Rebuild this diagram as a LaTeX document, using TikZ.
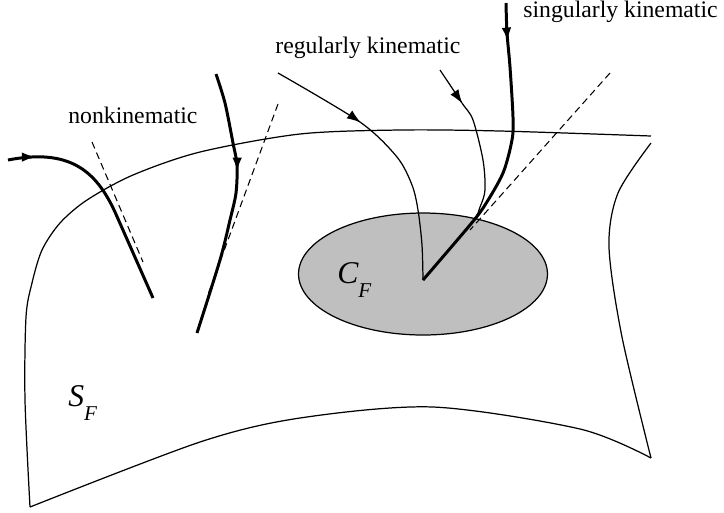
\documentclass[tikz,border=0pt]{standalone}
\usepackage{fontspec}
\setmainfont{Liberation Serif}
\usetikzlibrary{arrows.meta,decorations.markings}

\newcommand{\withsub}[2]{{\fontsize{18}{18}\selectfont\itshape #1}\raisebox{-8pt}{\fontsize{12}{12}\selectfont\itshape #2}}

\begin{document}
\begin{tikzpicture}[x=0.02cm, y=-0.02cm,
    surf/.style={line width=0.7pt},
    thinpath/.style={line width=0.7pt},
    thickpath/.style={line width=1.7pt},
    tangent/.style={line width=0.6pt, dash pattern=on 4pt off 2.5pt},
    tipat/.style={postaction={decorate}, decoration={markings,
        mark=at position #1 with {\arrow{Latex[length=8pt,width=5.5pt]}}}},
    lbl/.style={font=\fontsize{13.5}{16}\selectfont, inner sep=0pt, anchor=base west}]
    \useasboundingbox (0,0) rectangle (724,512);

    % the surface S_F
    \draw[surf] plot[smooth] coordinates {(30,507) (25,400) (26,317) (32,283) (42,250) (60,223)
        (87,200) (133,175) (200,152) (300,134) (400,130) (500,131) (651,136)};
    \draw[surf] plot[smooth] coordinates {(651,143) (618,193) (609,247) (622,337) (651,458)};
    \draw[surf] plot[smooth] coordinates {(651,458) (580,429) (433,407) (300,418) (200,442) (30,507)};

    % the set C_F
    \draw[surf, fill=black!25] (423,274) ellipse (2.49cm and 1.22cm);
    \coordinate (cusp) at (423,280);

    \node[inner sep=0pt, anchor=base west] (sf) at (68,406) {\withsub{S}{F}};
    \node[inner sep=0pt, anchor=base west] (cf) at (337,283) {\withsub{C}{F}};

    % tangent directions
    \draw[tangent] (92,142) -- (143,262);
    \draw[tangent] (278,104) -- (207,297);
    \draw[tangent] (610,73) -- (470,230);

    % trajectories
    \draw[thickpath, tipat=16pt] (8,160) .. controls (70,148) and (96,171) .. (115,212) -- (153,298);
    \draw[thickpath, tipat=57pt] plot[smooth] coordinates {(216,74) (225,103) (233,143) (237,165)
        (236,193) (230,220) (220,260) (197,333)};
    \draw[thinpath, tipat=55pt] plot[smooth] coordinates {(278,73) (360,122) (397,157) (412,185)
        (418,210) (422,245) (cusp)};
    \draw[thinpath, tipat=23pt] plot[smooth] coordinates {(440,70) (462,103) (473,120) (483,160)
        (485,190) (480,207) (472,222) (cusp)};
    \draw[thickpath, tipat=22pt] plot[smooth] coordinates {(506,3) (507,33) (510,67) (513,117)
        (512,140) (503,173) (485,205) (470,225) (cusp)};

    \node[lbl] (nonkin) at (68,123) {nonkinematic};
    \node[lbl] (regkin) at (275,53) {regularly kinematic};
    \node[lbl] (singkin) at (523,17) {singularly kinematic};
\end{tikzpicture}
\end{document}
